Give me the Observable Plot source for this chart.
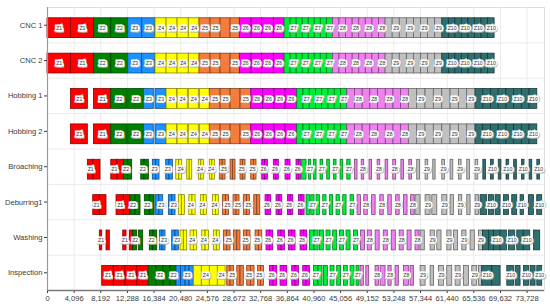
<!DOCTYPE html>
<html><head><meta charset="utf-8">
<script src="https://cdn.jsdelivr.net/npm/d3@7"></script>
<script src="https://cdn.jsdelivr.net/npm/@observablehq/plot@0.6"></script>
<style>
body{margin:0;background:#fff;}
#chart{width:550px;height:304px;}
</style></head><body><div id="chart"></div>
<script>
// ---- data ----
const machines = ["CNC 1","CNC 2","Hobbing 1","Hobbing 2","Broaching","Deburring1","Washing","Inspection"];
const jobs = ["Z1","Z2","Z3","Z4","Z5","Z6","Z7","Z8","Z9","Z10"];
const xTicks = [0,4096,8192,12288,16384,20480,24576,28672,32768,36864,40960,45056,49152,53248,57344,61440,65536,69632,73728];
const xMax = 76400;

// [job number, start, end]
const cncSchedule = [
[1,0,3600],[1,3600,7150],
[2,7150,9800],[2,9800,12410],
[3,12410,14560],[3,14560,16600],
[4,16600,18300],[4,18300,19990],[4,19990,21720],[4,21720,23370],
[5,23370,25060],[5,25060,26600],[5,26600,28140],[5,28140,29570],
[6,29570,31370],[6,31370,33010],[6,33010,34790],[6,34790,36440],
[7,36440,37370],[7,37370,38300],[7,38300,39230],[7,39230,40160],[7,40160,41080],[7,41080,42010],[7,42010,42940],[7,42940,43870],
[8,43870,44880],[8,44880,45890],[8,45890,46910],[8,46910,47920],[8,47920,48930],[8,48930,49940],[8,49940,50960],[8,50960,51970],
[9,51970,53060],[9,53060,54150],[9,54150,55240],[9,55240,56330],[9,56330,57420],[9,57420,58510],[9,58510,59600],[9,59600,60690],
[10,60690,61700],[10,61700,62700],[10,62700,63700],[10,63700,64710],[10,64710,65720],[10,65720,66720],[10,66720,67720],[10,67720,68730]];

const hobbingSchedule = [
[1,3600,6200],[1,7150,9800],
[2,9800,12300],[2,12410,14810],
[3,14810,16340],[3,16600,18300],
[4,18300,19940],[4,19990,21570],[4,21720,23260],[4,23420,24950],
[5,24950,26600],[5,26600,28140],[5,28140,29670],[5,29670,31320],
[6,31320,33160],[6,33160,34900],[6,34900,36590],[6,36590,38390],
[7,38390,39350],[7,39350,40310],[7,40310,41270],[7,41270,42230],[7,42230,43200],[7,43200,44160],[7,44160,45120],[7,45120,46080],
[8,46080,47260],[8,47260,48450],[8,48450,49630],[8,49630,50820],[8,50820,52000],[8,52000,53180],[8,53180,54370],[8,54370,55550],
[9,55550,56830],[9,56830,58110],[9,58110,59390],[9,59390,60680],[9,60680,61960],[9,61960,63240],[9,63240,64520],[9,64520,65800],
[10,65800,66990],[10,66990,68170],[10,68170,69360],[10,69360,70550],[10,70550,71730],[10,71730,72920],[10,72920,74100],[10,74100,75290]];

const broachingSchedule = [
[1,6200,7070],[1,7070,8150],[1,9800,10760],[1,10760,11730],
[2,11730,12410],[2,12410,13020],[2,14410,14910],[2,14910,15580],
[3,16190,16710],[3,16710,17220],[3,18250,18760],[3,18760,19270],
[4,19790,20250],[4,20250,20710],[4,21480,21860],[4,21860,22250],[4,23260,23650],[4,23650,24030],[4,24950,25340],[4,25340,25720],
[5,26490,26930],[5,26930,27370],[5,28140,28520],[5,28520,28900],[5,29670,30060],[5,30060,30440],[5,31320,31730],[5,31730,32130],
[6,33010,33440],[6,33440,33870],[6,34790,35180],[6,35180,35560],[6,36590,36980],[6,36980,37360],[6,38280,38650],[6,38650,39010],
[7,39160,39820],[7,40170,40540],[7,40940,41360],[7,41970,42380],[7,43000,43400],[7,44020,44430],[7,45050,45460],[7,46080,46590],
[8,47280,47660],[8,48300,48690],[8,49500,49900],[8,50750,51150],[8,51970,52380],[8,53150,53600],[8,54400,54810],[8,55620,56030],
[9,56840,57250],[9,58120,58530],[9,59300,59660],[9,60690,61100],[9,61960,62380],[9,63240,63650],[9,64530,64930],[9,65800,66220],
[10,67000,67400],[10,68180,68600],[10,69370,69780],[10,70560,70970],[10,71740,72150],[10,72930,73330],[10,74110,74520],[10,75300,75700]];

const deburringSchedule = [
[1,7030,8040],[1,8040,9070],[1,10610,11730],[1,11730,12760],
[2,12760,13530],[2,13530,14300],[2,14960,15730],[2,15730,16450],
[3,16600,17190],[3,17190,17790],[3,18650,19170],[3,19170,19680],
[4,20190,20650],[4,20650,21110],[4,21800,22280],[4,22280,22760],[4,23570,24030],[4,24030,24490],[4,25440,25890],[4,25890,26330],
[5,26980,27440],[5,27440,27900],[5,28600,29060],[5,29060,29520],[5,30180,30660],[5,30660,31130],[5,31780,32240],[5,32240,32700],
[6,33520,33950],[6,33950,34390],[6,35210,35650],[6,35650,36090],[6,36950,37360],[6,37360,37780],[6,38640,39080],[6,39080,39520],
[7,39820,40330],[7,40540,41050],[7,41360,41870],[7,42380,42890],[7,43400,43910],[7,44430,44940],[7,45460,45970],[7,46590,47100],
[8,47660,48200],[8,48690,49230],[8,49900,50440],[8,51150,51690],[8,52380,52920],[8,53600,54140],[8,54810,55350],[8,55900,56440],
[9,56580,57350],[9,58120,58890],[9,59150,59920],[9,60690,61460],[9,61960,62470],[9,63240,63760],[9,64530,65040],[9,65800,66310],
[10,66570,67590],[10,67850,68620],[10,68880,69650],[10,70160,70930],[10,71440,72210],[10,72720,73240],[10,74000,74770],[10,75280,76050]];

const washingSchedule = [
[1,8040,8410],[1,9070,9580],[1,11640,12150],[1,12650,13170],
[2,13170,13790],[2,14040,14710],[2,15730,16270],[2,16270,16870],
[3,17270,17680],[3,17680,18140],[3,19170,19680],[3,19680,20190],
[4,20450,20960],[4,20960,21480],[4,21990,22500],[4,22500,23010],[4,23780,24300],[4,24300,24810],[4,25570,26030],[4,26030,26490],
[5,27110,27630],[5,27630,28140],[5,28650,29170],[5,29170,29670],[5,30180,30700],[5,30700,31210],[5,31980,32490],[5,32490,33010],
[6,33670,34180],[6,34180,34700],[6,35470,35980],[6,35980,36490],[6,37100,37620],[6,37620,38130],[6,38900,39410],[6,39410,39930],
[7,40330,40950],[7,41050,41670],[7,41870,42490],[7,42890,43510],[7,43910,44530],[7,44940,45560],[7,45970,46590],[7,47100,47720],
[8,48200,48820],[8,49230,49850],[8,50440,51060],[8,51690,52310],[8,52920,53540],[8,54140,54760],[8,55350,55970],[8,56570,57190],
[9,57350,58000],[9,58890,59540],[9,59920,60570],[9,61460,62110],[9,62470,63120],[9,63760,64410],[9,65040,65690],[9,66310,66960],
[10,66960,67900],[10,67900,68620],[10,68620,69600],[10,69650,70620],[10,70930,71900],[10,72210,73180],[10,73240,74210],[10,74770,75740]];

const inspectionSchedule = [
[1,8410,10190],[1,10190,11990],[1,11990,13790],[1,13790,15570],
[2,15570,16760],[2,16760,17830],[2,17830,18910],[2,18910,19830],
[3,19830,20530],[3,20530,21220],[3,21220,21830],[3,21830,22490],
[4,22490,23720],[4,23720,24950],[4,24950,26180],[4,26180,27370],
[5,27630,28140],[5,28140,28650],[5,29170,29670],[5,29670,30180],[5,30700,31260],[5,31260,31830],[5,32340,32800],[5,32800,33270],
[6,34180,34750],[6,34750,35320],[6,35820,36340],[6,36340,36850],[6,37620,38130],[6,38130,38640],[6,39310,39820],[6,39820,40330],
[7,40950,41560],[7,41670,42280],[7,42490,43100],[7,43510,44120],[7,44530,45140],[7,45560,46170],[7,46590,47200],[7,47500,47950],
[8,48120,48630],[8,49000,49450],[8,50430,50940],[8,51200,51970],[8,52400,52900],[8,53500,54010],[8,54780,55550],[8,55810,56320],
[9,57350,58120],[9,58890,59410],[9,60170,60940],[9,61450,62220],[9,62730,63500],[9,64010,64780],[9,65300,66060],[9,66320,66830],
[10,66830,68370],[10,68370,69650],[10,70680,71700],[10,71960,72720],[10,73240,74010],[10,74260,75030],[10,75290,76050]];

const schedules = [cncSchedule, cncSchedule, hobbingSchedule, hobbingSchedule,
  broachingSchedule, deburringSchedule, washingSchedule, inspectionSchedule];

// ---- styles ----
const jobColors = ["#ff0000","#008000","#1e90ff","#ffff00","#f47c3c","#ff00ff","#00ee3a","#ee82ee","#c0c0c0","#2f6f6f"];
const W = 550, H = 304, ML = 47, MR = 6, MT = 7, MB = 14;

const cells = schedules.flatMap((sched, row) =>
  sched.map(([j, s, e]) => ({row, machine: machines[row], job: jobs[j - 1], color: jobColors[j - 1], start: s, end: e})));

// label placement: skip labels that would collide with the previous one in the row
const xs = d3.scaleLinear([0, xMax], [ML, W - MR]);
const labels = [];
machines.forEach((m, row) => {
  const rc = cells.filter(c => c.row === row).sort((a, b) => a.start - b.start);
  let last = -Infinity, lastW = 0;
  for (const c of rc) {
    const cx = xs((c.start + c.end) / 2);
    const w = c.job === "Z10" ? 12 : 9.5;
    if (cx - last >= (w + lastW) / 2 + 0.8) { labels.push(c); last = cx; lastW = w; }
  }
});

const chart = Plot.plot({
  width: W, height: H,
  marginLeft: ML, marginRight: MR, marginTop: MT, marginBottom: MB,
  style: {fontFamily: "'Liberation Sans', Arial, sans-serif", fontSize: "7.6px", color: "#3a3a3a", background: "#fff"},
  x: {domain: [0, xMax], ticks: xTicks, tickFormat: d3.format(","), tickSize: 3, tickPadding: 2, label: null},
  y: {domain: [-0.5, 7.5], reverse: true, ticks: machines.map((m, i) => i), tickFormat: i => machines[i], tickSize: 3, tickPadding: 2, label: null},
  marks: [
    Plot.frame({stroke: "#dedede"}),
    Plot.ruleX(xTicks, {stroke: "#ebebeb"}),
    Plot.ruleY(machines.slice(1).map((m, i) => i + 0.5), {stroke: "#ebebeb"}),
    Plot.rect(cells, {
      x1: "start", x2: "end",
      y1: d => d.row - 0.28, y2: d => d.row + 0.28, dy: 3,
      fill: d => d.color,
      stroke: d => d3.color(d.color).darker(1.8).formatHex(),
      strokeWidth: 0.8
    }),
    Plot.text(labels, {
      x: d => (d.start + d.end) / 2, y: "row", dy: 3.7, dx: 0.7,
      text: "job", fontSize: 5.2, fill: "#b4b4b4", stroke: "#b4b4b4", strokeWidth: 3.2, strokeLinejoin: "miter"
    }),
    Plot.text(labels, {
      x: d => (d.start + d.end) / 2, y: "row", dy: 3,
      text: "job", fontSize: 5.2, fill: "#333", stroke: "#fff", strokeWidth: 3.2, strokeLinejoin: "miter", paintOrder: "stroke"
    }),
    Plot.ruleX([0], {stroke: "#9a9a9a", strokeWidth: 1.2}),
    Plot.ruleY([7.5], {stroke: "#7a7a7a", strokeWidth: 1.5})
  ]
});
document.getElementById("chart").appendChild(chart);
</script>
</body></html>
